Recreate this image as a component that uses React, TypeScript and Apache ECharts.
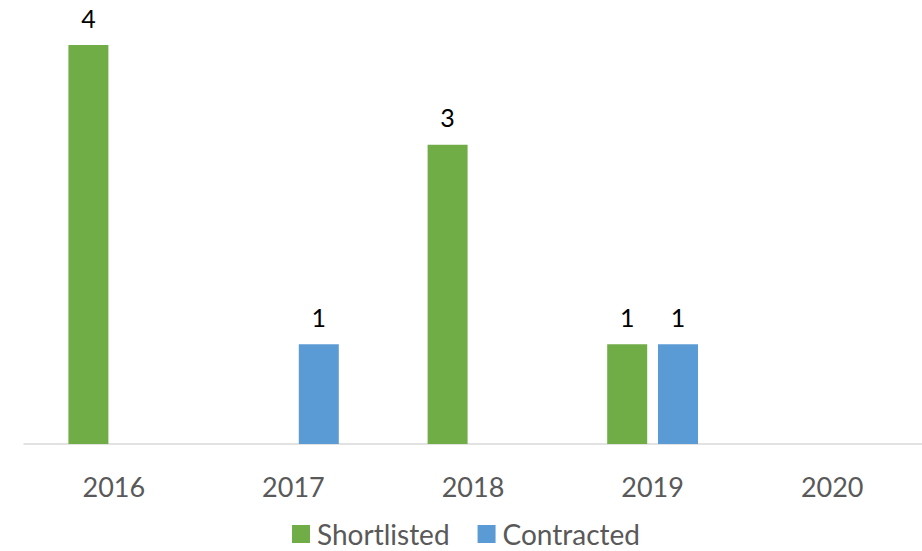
import React, { useEffect, useRef } from "react";
import * as echarts from "echarts";

const categories = ["2016", "2017", "2018", "2019", "2020"];
const shortlisted = [4, null, 3, 1, null];
const contracted = [null, 1, null, 1, null];
const seriesNames = ["Shortlisted", "Contracted"];

const FONT = "Lato, 'Open Sans', sans-serif";

export default function App() {
  const ref = useRef<HTMLDivElement>(null);
  useEffect(() => {
    if (!ref.current) return;
    const chart = echarts.init(ref.current, null, { renderer: "svg" });
    chart.setOption({
      animation: false,
      grid: { left: 24, top: 45, width: 900, height: 399 },
      legend: {
        data: seriesNames,
        left: 292,
        top: 520,
        padding: 0,
        itemWidth: 18,
        itemHeight: 18,
        itemGap: 28,
        icon: "rect",
        textStyle: { color: "#595959", fontSize: 28, lineHeight: 28, fontFamily: FONT, padding: [0, 0, 0, 2] },
      },
      xAxis: {
        type: "category",
        data: categories,
        axisLine: { lineStyle: { color: "#d9d9d9", width: 1.5 } },
        axisTick: { show: false },
        axisLabel: { color: "#595959", fontSize: 27, fontFamily: FONT, margin: 29 },
      },
      yAxis: {
        type: "value",
        min: 0,
        max: 4,
        show: false,
        splitLine: { show: false },
      },
      series: [
        {
          name: seriesNames[0],
          type: "bar",
          data: shortlisted,
          barWidth: 40,
          barGap: "27%",
          itemStyle: { color: "#70ad47" },
          label: { show: true, position: "top", color: "#000", fontSize: 25, fontFamily: FONT, distance: 15 },
        },
        {
          name: seriesNames[1],
          type: "bar",
          data: contracted,
          barWidth: 40,
          barGap: "27%",
          itemStyle: { color: "#5b9bd5" },
          label: { show: true, position: "top", color: "#000", fontSize: 25, fontFamily: FONT, distance: 15 },
        },
      ],
    });
    return () => chart.dispose();
  }, []);
  return <div ref={ref} style={{ width: 922, height: 551, position: "absolute", left: 0, top: 0 }} />;
}
